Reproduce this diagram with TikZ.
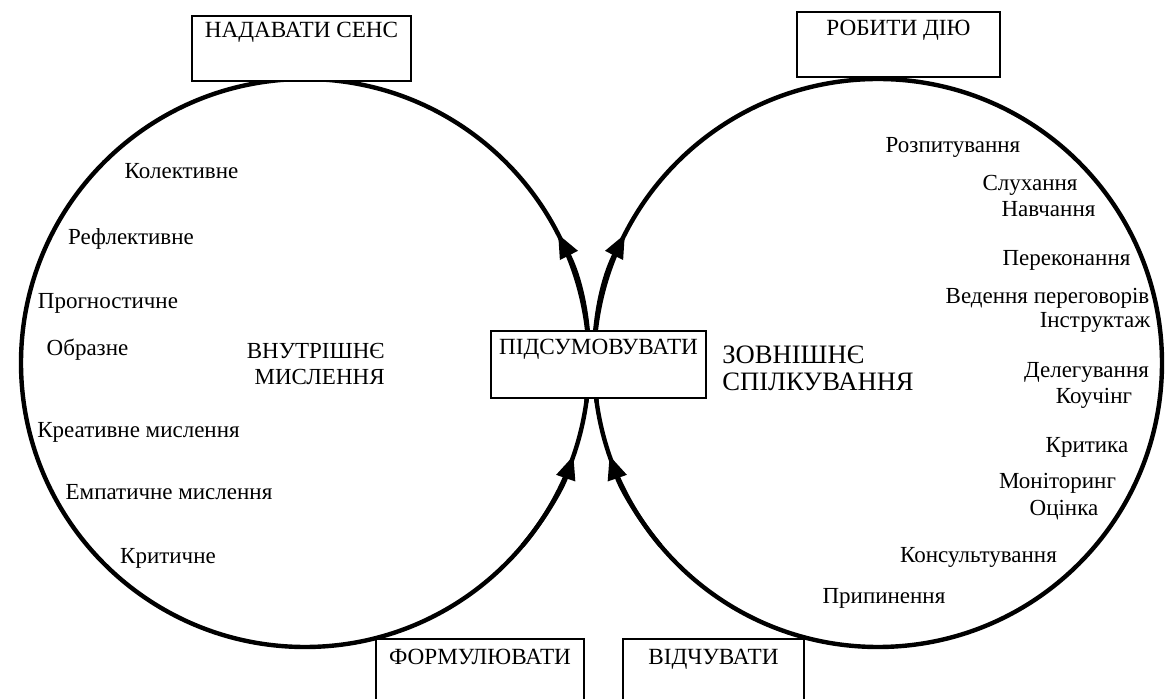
\documentclass[tikz,border=0pt]{standalone}
\usepackage{fontspec}
\setmainfont{Liberation Serif}
\usetikzlibrary{arrows.meta}
\newcommand\myitemfont{\fontsize{11.5}{13}\selectfont}
\newcommand\myboxfont{\fontsize{11.6}{13}\selectfont}
\newcommand\mybigfont{\fontsize{13.3}{13.5}\selectfont}
\tikzset{
  ring/.style={line width=2.2pt},
  flow/.style={line width=2.2pt, -{Triangle[length=12pt,width=9.5pt]}},
  boxnode/.style={draw, line width=1pt, fill=white, inner sep=0pt, font=\myboxfont, anchor=north west},
  item/.style={font=\myitemfont, anchor=base, inner sep=0pt},
}
\begin{document}
\begin{tikzpicture}[x=0.5pt,y=-0.5pt]
\useasboundingbox (0,0) rectangle (1169,699);
\clip (0,0) rectangle (1169,699);
\fill[white] (0,0) rectangle (1169,699);
\coordinate (Lc) at (305,363);
\coordinate (Rc) at (878,363);
% circles
\draw[ring] (Lc) circle[radius=284];
\draw[ring] (Rc) circle[radius=284];
% arrows on the circles
\draw[flow] (Lc) ++(8:284) arc[start angle=8, end angle=-27, radius=284];
\draw[flow] (Lc) ++(40:284) arc[start angle=40, end angle=19, radius=284];
\draw[flow] (Rc) ++(172:284) arc[start angle=172, end angle=207, radius=284];
\draw[flow] (Rc) ++(140:284) arc[start angle=140, end angle=161, radius=284];
% boxes
\node[boxnode, minimum width=109.5pt, text height=11pt, text depth=21.5pt] (sens) at (191,15) {НАДАВАТИ СЕНС};
\node[boxnode, minimum width=101.5pt, text height=12pt, text depth=20.5pt] (diyu) at (796,11) {РОБИТИ ДІЮ};
\node[boxnode, minimum width=107.5pt, text height=12pt, text depth=21.5pt] (pids) at (490,330) {ПІДСУМОВУВАТИ};
\node[boxnode, minimum width=104pt, text height=13pt, text depth=20.5pt] (form) at (375,638) {ФОРМУЛЮВАТИ};
\node[boxnode, minimum width=90.5pt, text height=13pt, text depth=20.5pt] (vidch) at (622,638) {ВІДЧУВАТИ};
% centre labels
\node[font=\myitemfont, align=right, anchor=east, inner sep=0pt] (vnutr) at (385,364) {ВНУТРІШНЄ\\МИСЛЕННЯ};
\node[font=\mybigfont, align=left, anchor=west, inner sep=0pt] (zovn) at (722,368) {ЗОВНІШНЄ\\СПІЛКУВАННЯ};
% left list
\node[item] (l1) at (181.5,179) {Колективне};
\node[item] (l2) at (131,245) {Рефлективне};
\node[item] (l3) at (108,309) {Прогностичне};
\node[item] (l4) at (87.5,356) {Образне};
\node[item] (l5) at (138.5,438) {Креативне мислення};
\node[item] (l6) at (169,500) {Емпатичне мислення};
\node[item] (l7) at (168,564) {Критичне};
% right list
\node[item] (r1) at (953,153) {Розпитування};
\node[item] (r2) at (1030,191) {Слухання};
\node[item] (r3) at (1048.5,217) {Навчання};
\node[item] (r4) at (1066.5,266) {Переконання};
\node[item] (r5) at (1047.5,304) {Ведення переговорів};
\node[item] (r6) at (1095,328) {Інструктаж};
\node[item] (r7) at (1086.5,378) {Делегування};
\node[item] (r8) at (1094,404) {Коучінг};
\node[item] (r9) at (1087,453) {Критика};
\node[item] (r10) at (1057.5,489) {Моніторинг};
\node[item] (r11) at (1064,516) {Оцінка};
\node[item] (r12) at (978.5,563) {Консультування};
\node[item] (r13) at (884,604) {Припинення};
\end{tikzpicture}
\end{document}
